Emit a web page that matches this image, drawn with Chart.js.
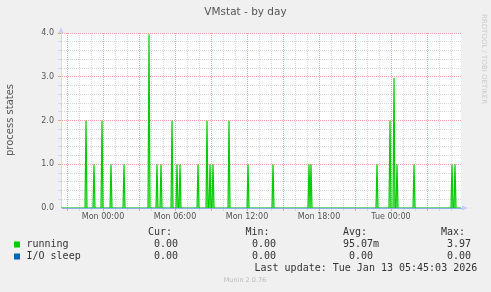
<!DOCTYPE html>
<html>
<head>
<meta charset="utf-8">
<script src="https://cdn.jsdelivr.net/npm/chart.js@4/dist/chart.umd.min.js"></script>
<style>
  html, body { margin: 0; padding: 0; background: #f0f0f0; }
  #wrap { width: 491px; height: 292px; }
</style>
</head>
<body>
<div id="wrap"><canvas id="vmstat"></canvas></div>
<script>
// time in minutes relative to Mon 00:00 (5 minute samples)
const spikeMinutes = [-85, -45, -5, 40, 105, 230, 270, 290, 345, 370, 385, 475, 520, 535, 550, 630, 725, 850, 1030, 1040, 1370, 1435, 1455, 1470, 1555, 1745, 1760];
const runningValues = [2, 1, 2, 1, 1, 3.97, 1, 1, 2, 1, 1, 1, 2, 1, 1, 2, 1, 1, 1, 1, 1, 2, 2.97, 1, 1, 1, 1];
const xTickMinutes = [0, 360, 720, 1080, 1440];
const xTickLabels = ['Mon 00:00', 'Mon 06:00', 'Mon 12:00', 'Mon 18:00', 'Tue 00:00'];
const yTickLabels = ['0.0', '1.0', '2.0', '3.0', '4.0'];
const legendNames = ['running', 'I/O sleep'];
const legendColors = ['#00cc00', '#0066b3'];
const curValues = ['0.00', '0.00'];
const minValues = ['0.00', '0.00'];
const avgValues = ['95.07m', '0.00'];
const maxValues = ['3.97', '0.00'];

const X_MIN = -210, X_MAX = 1790;

function runningPoints() {
  let pts = [{x: X_MIN, y: 0}];
  spikeMinutes.forEach((t, i) => {
    pts.push({x: t - 5, y: 0}, {x: t, y: runningValues[i]}, {x: t + 5, y: 0});
  });
  pts.push({x: X_MAX, y: 0});
  return pts;
}

const gridRed = 'rgba(240,150,150,0.9)';
const gridGray = '#d8d8d8';

const muninPlugin = {
  id: 'munin',
  beforeDraw(chart) {
    const c = chart.ctx, a = chart.chartArea;
    c.save();
    c.fillStyle = '#f0f0f0';
    c.fillRect(0, 0, chart.width, chart.height);
    c.fillStyle = '#ffffff';
    c.fillRect(a.left, a.top, a.right - a.left, a.bottom - a.top);
    c.restore();
  },
  afterDraw(chart) {
    const c = chart.ctx;
    c.save();
    // title
    c.fillStyle = '#555';
    c.font = '10.5px "DejaVu Sans"';
    c.textAlign = 'center';
    c.textBaseline = 'middle';
    c.fillText('VMstat - by day', 245.5, 12);
    // y axis title
    c.save();
    c.translate(10, 120);
    c.rotate(-Math.PI / 2);
    c.font = '10px "DejaVu Sans"';
    c.fillText('process states', 0, 0);
    c.restore();
    // rrdtool watermark
    c.save();
    c.translate(484, 14);
    c.rotate(Math.PI / 2);
    c.fillStyle = '#cccccc';
    c.font = '7px "DejaVu Sans"';
    c.textAlign = 'left';
    c.fillText('RRDTOOL / TOBI OETIKER', 0, 0);
    c.restore();
    // axis arrows
    c.fillStyle = '#c8ccf8';
    c.beginPath();
    c.moveTo(58.5, 33); c.lineTo(63.5, 33); c.lineTo(61, 27); c.closePath(); c.fill();
    c.beginPath();
    c.moveTo(462, 205.5); c.lineTo(462, 210.5); c.lineTo(468, 208); c.closePath(); c.fill();
    // legend
    c.font = '10px "DejaVu Sans Mono"';
    c.textAlign = 'left';
    c.fillStyle = '#333';
    c.fillText('Cur:', 148, 232);
    c.fillText('Min:', 245.5, 232);
    c.fillText('Avg:', 343, 232);
    c.fillText('Max:', 441, 232);
    const rows = [244.5, 256.5];
    legendNames.forEach((n, i) => {
      const y = rows[i];
      c.fillStyle = legendColors[i];
      c.fillRect(14, y - 3, 6, 6);
      c.fillStyle = '#333';
      c.fillText(n, 26.5, y);
      c.textAlign = 'right';
      c.fillText(curValues[i], 178, y);
      c.fillText(minValues[i], 276, y);
      c.fillText(avgValues[i], i === 0 ? 379 : 373, y);
      c.fillText(maxValues[i], 471, y);
      c.textAlign = 'left';
    });
    c.fillText('Last update: Tue Jan 13 05:45:03 2026', 254.5, 268);
    c.fillStyle = '#bbbbbb';
    c.font = '6.5px "DejaVu Sans"';
    c.textAlign = 'center';
    c.fillText('Munin 2.0.76', 245, 280.5);
    c.restore();
  }
};

function fillChart() {
  let ctx = document.getElementById('vmstat').getContext('2d');
  new Chart(ctx, {
    type: 'line',
    data: {
      datasets: [{
        label: legendNames[0],
        data: runningPoints(),
        borderColor: legendColors[0],
        backgroundColor: 'rgba(0,204,0,0.35)',
        fill: 'origin',
        borderWidth: 1.2,
        pointRadius: 0,
        tension: 0,
        order: 2
      }, {
        label: legendNames[1],
        data: [{x: X_MIN, y: 0}, {x: X_MAX, y: 0}],
        borderColor: 'rgba(0,102,179,0.2)',
        borderWidth: 1,
        pointRadius: 0,
        order: 1
      }]
    },
    options: {
      responsive: true,
      maintainAspectRatio: false,
      animation: false,
      events: [],
      layout: { padding: { top: 33, right: 30, bottom: 64, left: 0 } },
      plugins: { legend: { display: false }, title: { display: false }, tooltip: { enabled: false } },
      scales: {
        x: {
          type: 'linear',
          min: X_MIN,
          max: X_MAX,
          afterBuildTicks: s => {
            let t = [];
            for (let v = -180; v <= 1740; v += 60) t.push({value: v});
            s.ticks = t;
          },
          afterFit: s => { s.height = 20; },
          ticks: {
            autoSkip: false,
            maxRotation: 0,
            padding: 1,
            color: '#555',
            font: { family: 'DejaVu Sans', size: 8 },
            callback: v => {
              const i = xTickMinutes.indexOf(v);
              return i >= 0 ? xTickLabels[i] : '';
            }
          },
          grid: {
            color: c => (c.tick && c.tick.value % 180 === 0) ? gridRed : gridGray,
            tickLength: 3
          },
          border: { display: true, color: '#8eb0e6', dash: [1, 1] }
        },
        y: {
          min: 0,
          max: 4,
          afterBuildTicks: s => {
            let t = [];
            for (let i = 0; i <= 20; i++) t.push({value: i / 5});
            s.ticks = t;
          },
          afterFit: s => { s.width = 61; },
          ticks: {
            autoSkip: false,
            padding: 4,
            color: '#555',
            font: { family: 'DejaVu Sans', size: 8 },
            callback: (v, i) => i % 5 === 0 ? yTickLabels[i / 5] : ''
          },
          grid: {
            color: c => c.index === 0 ? 'rgba(0,0,0,0)' : (c.index % 5 === 0 ? gridRed : gridGray),
            tickLength: 3
          },
          border: { display: true, color: '#d4d8f4', dash: [1, 1] }
        }
      }
    },
    plugins: [muninPlugin]
  });
}

window.addEventListener('load', fillChart);
</script>
</body>
</html>
